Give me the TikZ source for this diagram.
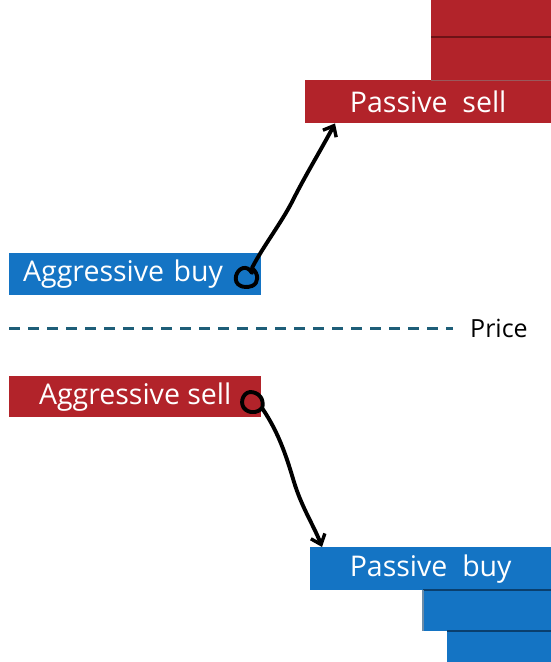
\documentclass[tikz,border=0pt]{standalone}
\usepackage{fontspec}
\setmainfont{Open Sans}
\usetikzlibrary{arrows.meta}
\definecolor{BookRed}{HTML}{B2232A}
\definecolor{BookRedDark}{HTML}{6E1216}
\definecolor{BookBlue}{HTML}{1474C4}
\definecolor{BookBlueDark}{HTML}{0A3F6E}
\definecolor{PriceTeal}{HTML}{1E5E78}

\begin{document}
\begin{tikzpicture}[
    x=1pt, y=-1pt,
    >={Straight Barb[length=9pt,width=15pt,line width=3.4pt]},
    order/.style={anchor=north west, inner sep=0pt, text=white, font=\fontsize{28.5}{30}\selectfont},
    sellorder/.style={order, fill=BookRed},
    buyorder/.style={order, fill=BookBlue},
    level/.style={anchor=north west, inner sep=0pt},
    sep/.style={line width=1.6pt},
    pen/.style={draw=black, line width=3.9pt, line cap=round, line join=round}
]
\useasboundingbox (0,0) rectangle (551,662);

\node[level, fill=BookRed, minimum width=120, minimum height=39] (ask2) at (431,-2) {};
\node[level, fill=BookRed, minimum width=120, minimum height=43] (ask1) at (431,37) {};
\node[sellorder, minimum width=246, minimum height=43] (psell) at (305,80) {Passive~~sell};
\draw[sep, BookRedDark] (ask1.north west) -- (ask1.north east);
\draw[sep, BookRedDark!70] (ask1.south west) -- (ask1.south east);

\node[buyorder, minimum width=252, minimum height=42, text width=224, align=left, inner xsep=14] (abuy) at (9,253) {Aggressive buy};
\node[sellorder, minimum width=252, minimum height=41] (asell) at (9,376) {Aggressive sell};

\coordinate (levelstart) at (9,328);
\node[anchor=west, inner sep=0pt, font=\fontsize{25}{27}\selectfont] (price) at (470,328) {Price};
\draw[PriceTeal, line width=3pt, dash pattern=on 11pt off 8pt] (levelstart) -- ([xshift=-17pt]price.west);

\node[buyorder, minimum width=241, minimum height=43] (pbuy) at (310,547) {Passive~~buy};
\node[level, fill=BookBlue, minimum width=128, minimum height=41] (bid1) at (423,590) {};
\node[level, fill=BookBlue, minimum width=104, minimum height=33] (bid2) at (447,631) {};
\draw[sep, BookBlueDark] (bid1.north west) -- (bid1.north east);
\draw[sep, BookBlueDark] (bid2.north west) -- (bid2.north east);
\draw[sep, BookBlueDark!60] (bid1.north west) -- (bid1.south west);

\coordinate (buytail) at (252,273);
\coordinate (selltail) at (262,409);
\draw[pen, ->] (buytail) .. controls (247,264) and (238,268) .. (236,276)
    .. controls (234,285) and (243,289) .. (252,286)
    .. controls (259,283) and (259,274) .. (252,268)
    .. controls (262,248) and (282,222) .. (293,200)
    .. controls (305,176) and (322,148) .. ([xshift=30pt]psell.south west);
\draw[pen, ->] (selltail) .. controls (265,398) and (258,392) .. (250,392)
    .. controls (242,393) and (239,405) .. (246,410)
    .. controls (252,414) and (259,412) .. (262,408)
    .. controls (280,434) and (288,462) .. (294,482)
    .. controls (302,508) and (314,526) .. ([xshift=12pt]pbuy.north west);
\end{tikzpicture}
\end{document}
